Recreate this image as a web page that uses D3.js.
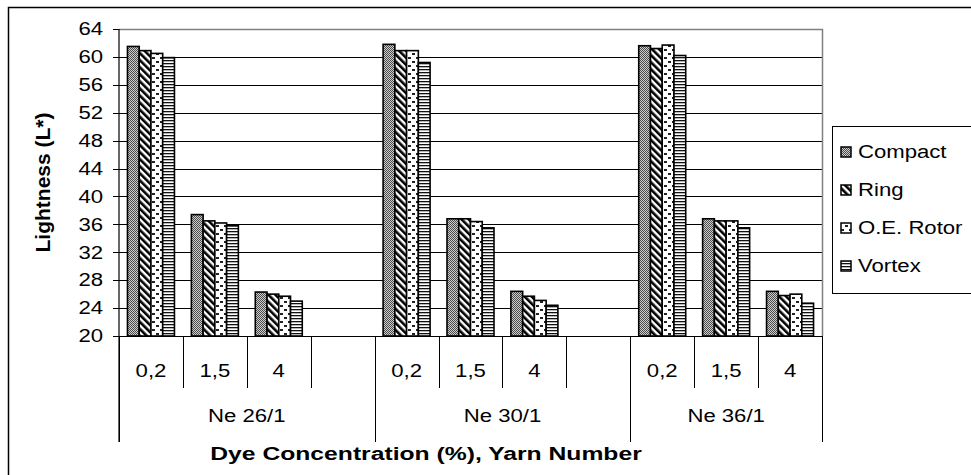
<!DOCTYPE html>
<html>
<head>
<meta charset="utf-8">
<script src="https://cdn.jsdelivr.net/npm/d3@7"></script>
<style>
  body { margin: 0; background: #fff; }
  svg { display: block; font-family: "Liberation Sans", Arial, sans-serif; }
  .tick-label { font-size: 18px; fill: #000; }
  .axis-title { font-size: 19px; font-weight: bold; fill: #000; }
  .legend-label { font-size: 18px; fill: #000; }
</style>
</head>
<body>
<div id="chart"></div>
<script>
// data
const yarns = ["Ne 26/1", "Ne 30/1", "Ne 36/1"];
const concentrations = ["0,2", "1,5", "4"];
const series = ["Compact", "Ring", "O.E. Rotor", "Vortex"];
// values per yarn group, in concentration order
const compact = [61.5, 37.4, 26.3,  61.8, 36.8, 26.4,  61.6, 36.8, 26.4];
const ring    = [60.9, 36.5, 26.0,  60.9, 36.8, 25.7,  61.2, 36.5, 25.8];
const oeRotor = [60.5, 36.2, 25.7,  60.9, 36.4, 25.1,  61.7, 36.5, 26.0];
const vortex  = [59.9, 35.8, 25.0,  59.2, 35.5, 24.4,  60.2, 35.5, 24.7];
const yTicks = [20, 24, 28, 32, 36, 40, 44, 48, 52, 56, 60, 64];

const width = 971, height = 475;
const plot = {left: 119, right: 822, top: 29, bottom: 336};
const catBottom = 388, groupBottom = 442;
const stretch = 1.23;      // the reference text is drawn wide
const titleStretch = 1.3;

const svg = d3.select("#chart").append("svg")
    .attr("width", width)
    .attr("height", height);

// text helper: text anchored at the origin of its (scaled) group
function wideText(sel, cls, anchor) {
    return sel.append("text")
        .attr("class", cls)
        .attr("text-anchor", anchor)
        .attr("dy", "0.35em");
}

// patterns (black & white print style)
const defs = svg.append("defs");
let p = defs.append("pattern").attr("id", "pat-0").attr("patternUnits", "userSpaceOnUse")
    .attr("width", 2).attr("height", 2);
p.append("rect").attr("width", 2).attr("height", 2).attr("fill", "#cfcfcf");
p.append("rect").attr("width", 1).attr("height", 1).attr("fill", "#4a4a4a");
p.append("rect").attr("x", 1).attr("y", 1).attr("width", 1).attr("height", 1).attr("fill", "#4a4a4a");

p = defs.append("pattern").attr("id", "pat-1").attr("patternUnits", "userSpaceOnUse")
    .attr("width", 5).attr("height", 5).attr("patternTransform", "rotate(-45)");
p.append("rect").attr("width", 5).attr("height", 5).attr("fill", "#fff");
p.append("rect").attr("width", 2.6).attr("height", 5).attr("fill", "#000");

p = defs.append("pattern").attr("id", "pat-2").attr("patternUnits", "userSpaceOnUse")
    .attr("width", 8).attr("height", 8);
p.append("rect").attr("width", 8).attr("height", 8).attr("fill", "#fff");
p.append("rect").attr("x", 0).attr("y", 1).attr("width", 3).attr("height", 2).attr("fill", "#222");
p.append("rect").attr("x", 4).attr("y", 5).attr("width", 3).attr("height", 2).attr("fill", "#222");

p = defs.append("pattern").attr("id", "pat-3").attr("patternUnits", "userSpaceOnUse")
    .attr("width", 3).attr("height", 3);
p.append("rect").attr("width", 3).attr("height", 3).attr("fill", "#fff");
p.append("rect").attr("width", 3).attr("height", 1.3).attr("fill", "#111");

// chart frame (cropped on right / bottom in the reference)
svg.append("path")
    .attr("d", `M8.5,${height}V7.5H${width}`)
    .attr("fill", "none").attr("stroke", "#000").attr("stroke-width", 1.5);

// slots: each yarn gets its concentrations + a blank slot, except the last
const slots = [];
yarns.forEach((yarn, gi) => {
    concentrations.forEach((c, ci) => slots.push({key: `${gi}-${ci}`, label: c, yarn, gi, ci}));
    if (gi < yarns.length - 1) slots.push({key: `${gi}-blank`, label: "", yarn, gi, ci: -1});
});

const x = d3.scaleBand().domain(slots.map(d => d.key)).range([plot.left, plot.right]);
const xs = d3.scaleBand().domain(series).range([0, x.bandwidth()]).paddingOuter(0.72);
const y = d3.scaleLinear().domain([20, 64]).range([plot.bottom, plot.top]);

// gridlines
svg.append("g").selectAll("line")
    .data(yTicks.filter(t => t > 20 && t < 64))
    .join("line")
    .attr("x1", plot.left).attr("x2", plot.right)
    .attr("y1", d => Math.round(y(d)) + 0.5).attr("y2", d => Math.round(y(d)) + 0.5)
    .attr("stroke", "#000").attr("stroke-width", 1);

// plot area border top/right (grey)
svg.append("path")
    .attr("d", `M${plot.left},${plot.top + 0.5}H${plot.right + 0.5}V${plot.bottom}`)
    .attr("fill", "none").attr("stroke", "#808080").attr("stroke-width", 1.5);

// bars
const valuesBySeries = [compact, ring, oeRotor, vortex];
const barData = [];
slots.filter(s => s.ci >= 0).forEach(s => {
    series.forEach((name, si) => {
        barData.push({slot: s.key, name, si, value: valuesBySeries[si][s.gi * concentrations.length + s.ci]});
    });
});
svg.append("g").selectAll("rect")
    .data(barData)
    .join("rect")
    .attr("x", d => x(d.slot) + xs(d.name))
    .attr("y", d => y(d.value))
    .attr("width", xs.bandwidth())
    .attr("height", d => y(20) - y(d.value))
    .attr("fill", d => `url(#pat-${d.si})`)
    .attr("stroke", "#000").attr("stroke-width", 1.6);

// y axis
const yAxis = svg.append("g").attr("transform", `translate(${plot.left},0)`);
yAxis.append("line").attr("x1", 0).attr("x2", 0).attr("y1", plot.top).attr("y2", groupBottom)
    .attr("stroke", "#000").attr("stroke-width", 1.2);
yAxis.selectAll(".ytick").data(yTicks).join("line")
    .attr("x1", -6).attr("x2", 0)
    .attr("y1", d => Math.round(y(d)) + 0.5).attr("y2", d => Math.round(y(d)) + 0.5)
    .attr("stroke", "#000");
yAxis.selectAll(".ylab").data(yTicks).join("g")
    .attr("transform", d => `translate(-16,${y(d)}) scale(${stretch},1)`)
    .call(g => wideText(g, "tick-label", "end").text(d => d));

// x axis line
svg.append("line")
    .attr("x1", plot.left).attr("x2", plot.right)
    .attr("y1", plot.bottom + 0.5).attr("y2", plot.bottom + 0.5)
    .attr("stroke", "#000").attr("stroke-width", 1.2);

// slot separators (short) and group separators (long)
const bounds = slots.map((s, i) => ({pos: x(s.key), long: i === 0 || s.gi !== slots[i - 1].gi}));
bounds.push({pos: plot.right, long: true});
svg.append("g").selectAll("line").data(bounds).join("line")
    .attr("x1", d => Math.round(d.pos) + 0.5).attr("x2", d => Math.round(d.pos) + 0.5)
    .attr("y1", plot.bottom).attr("y2", d => d.long ? groupBottom : catBottom)
    .attr("stroke", "#000").attr("stroke-width", 1);

// concentration labels
svg.append("g").selectAll("g").data(slots.filter(s => s.label)).join("g")
    .attr("transform", d => `translate(${x(d.key) + x.bandwidth() / 2},371) scale(${stretch},1)`)
    .call(g => wideText(g, "tick-label", "middle").text(d => d.label));

// yarn labels centred under their group
const groupCenter = gi => {
    const g = slots.filter(s => s.gi === gi);
    const x0 = x(g[0].key);
    const x1 = gi === yarns.length - 1 ? plot.right : x(g[g.length - 1].key) + x.bandwidth();
    return (x0 + x1) / 2;
};
svg.append("g").selectAll("g").data(yarns).join("g")
    .attr("transform", (d, gi) => `translate(${groupCenter(gi)},416) scale(${stretch},1)`)
    .call(g => wideText(g, "tick-label", "middle").text(d => d));

// axis titles
svg.append("text").attr("class", "axis-title")
    .style("font-size", "21px")
    .attr("transform", `translate(43,${(plot.top + plot.bottom) / 2}) rotate(-90)`)
    .attr("text-anchor", "middle").attr("dy", "0.35em")
    .text("Lightness (L*)");
svg.append("g")
    .attr("transform", `translate(426,453) scale(${titleStretch},1)`)
    .call(g => wideText(g, "axis-title", "middle").text("Dye Concentration (%), Yarn Number"));

// legend
const legend = svg.append("g").attr("transform", "translate(832,126)");
legend.append("rect").attr("x", 0.5).attr("y", 0.5).attr("width", 150).attr("height", 167)
    .attr("fill", "#fff").attr("stroke", "#000");
const li = legend.selectAll(".item").data(series).join("g")
    .attr("transform", (d, i) => `translate(9,${26 + i * 38})`);
li.append("rect").attr("x", 0).attr("y", -5).attr("width", 10).attr("height", 10)
    .attr("fill", (d, i) => `url(#pat-${i})`).attr("stroke", "#000").attr("stroke-width", 1.5);
li.append("g").attr("transform", `translate(17,0) scale(${stretch},1)`)
    .call(g => wideText(g, "legend-label", "start").text(d => d));
</script>
</body>
</html>
